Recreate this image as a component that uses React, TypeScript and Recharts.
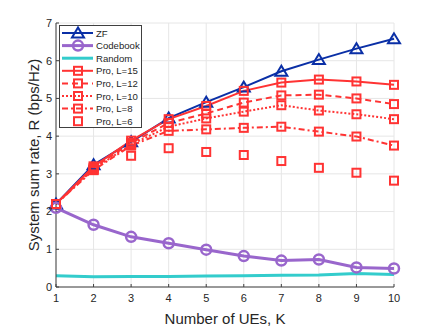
import React from 'react';
import {
  LineChart,
  Line,
  XAxis,
  YAxis,
  CartesianGrid,
} from 'recharts';

// Number of UEs
const ues = [1, 2, 3, 4, 5, 6, 7, 8, 9, 10];

// Sum rate (bps/Hz) per scheme
const zf = [2.2, 3.24, 3.85, 4.48, 4.9, 5.3, 5.72, 6.03, 6.32, 6.58];
const codebook = [2.1, 1.65, 1.33, 1.16, 0.99, 0.82, 0.7, 0.73, 0.52, 0.49];
const random = [0.3, 0.27, 0.28, 0.28, 0.29, 0.3, 0.31, 0.32, 0.36, 0.33];
const pro15 = [2.2, 3.2, 3.88, 4.45, 4.8, 5.2, 5.42, 5.5, 5.45, 5.36];
const pro12 = [2.2, 3.16, 3.82, 4.35, 4.6, 4.89, 5.08, 5.1, 5.0, 4.85];
const pro10 = [2.2, 3.13, 3.78, 4.25, 4.47, 4.65, 4.82, 4.68, 4.58, 4.45];
const pro8 = [2.2, 3.1, 3.75, 4.14, 4.18, 4.22, 4.25, 4.12, 3.99, 3.75];
const pro6 = [2.2, 3.1, 3.48, 3.68, 3.58, 3.5, 3.34, 3.16, 3.03, 2.82];

const xTicks = [1, 2, 3, 4, 5, 6, 7, 8, 9, 10];
const yTicks = [0, 1, 2, 3, 4, 5, 6, 7];

const BLUE = '#0a2fa6';
const PURPLE = '#9966cc';
const TEAL = '#33cccc';
const RED = '#ff3333';
const AXIS = '#404040';
const FONT = '"Liberation Sans", Arial, Helvetica, sans-serif';

const chartData = ues.map((k, i) => ({
  k,
  zf: zf[i],
  codebook: codebook[i],
  random: random[i],
  pro15: pro15[i],
  pro12: pro12[i],
  pro10: pro10[i],
  pro8: pro8[i],
  pro6: pro6[i],
}));

const triangle = (cx: number, cy: number, color: string, key?: any) => (
  <polygon
    key={key}
    points={`${cx},${cy - 5.5} ${cx - 6},${cy + 4.5} ${cx + 6},${cy + 4.5}`}
    fill="none"
    stroke={color}
    strokeWidth={2}
  />
);

const circle = (cx: number, cy: number, color: string, key?: any) => (
  <circle key={key} cx={cx} cy={cy} r={5} fill="none" stroke={color} strokeWidth={2.5} />
);

const square = (cx: number, cy: number, color: string, key?: any) => (
  <rect
    key={key}
    x={cx - 4}
    y={cy - 4}
    width={8}
    height={8}
    fill="none"
    stroke={color}
    strokeWidth={2}
  />
);

type Marker = 'triangle' | 'circle' | 'square' | 'none';

const drawMarker = (m: Marker, cx: number, cy: number, color: string, key?: any) => {
  if (m === 'triangle') return triangle(cx, cy, color, key);
  if (m === 'circle') return circle(cx, cy, color, key);
  if (m === 'square') return square(cx, cy, color, key);
  return <g key={key} />;
};

const dotFn = (m: Marker, color: string) => (props: any) =>
  drawMarker(m, props.cx, props.cy, color, `${m}-${props.index}`);

interface SeriesDef {
  key: string;
  label: string;
  color: string;
  width: number;
  dash?: string;
  marker: Marker;
  noLine?: boolean;
}

const series: SeriesDef[] = [
  { key: 'zf', label: 'ZF', color: BLUE, width: 2, marker: 'triangle' },
  { key: 'codebook', label: 'Codebook', color: PURPLE, width: 3, marker: 'circle' },
  { key: 'random', label: 'Random', color: TEAL, width: 3, marker: 'none' },
  { key: 'pro15', label: 'Pro, L=15', color: RED, width: 2, marker: 'square' },
  { key: 'pro12', label: 'Pro, L=12', color: RED, width: 2, dash: '6 4', marker: 'square' },
  { key: 'pro10', label: 'Pro, L=10', color: RED, width: 2, dash: '2 2', marker: 'square' },
  { key: 'pro8', label: 'Pro, L=8', color: RED, width: 2, dash: '6 3 2 3', marker: 'square' },
  { key: 'pro6', label: 'Pro, L=6', color: RED, width: 2, marker: 'square', noLine: true },
];

function LegendBox() {
  const w = 83;
  const h = 103;
  return (
    <svg width={w} height={h} style={{ display: 'block' }}>
      <rect x={0.5} y={0.5} width={w - 1} height={h - 1} fill="#fff" stroke={AXIS} strokeWidth={1} />
      {series.map((s, i) => {
        const y = 8 + i * 12.6;
        return (
          <g key={s.key}>
            {!s.noLine && (
              <line
                x1={3}
                x2={34}
                y1={y}
                y2={y}
                stroke={s.color}
                strokeWidth={s.width}
                strokeDasharray={s.dash}
              />
            )}
            {drawMarker(s.marker, 19, y, s.color)}
            <text x={37} y={y + 3.5} fontSize={9.6} fontFamily={FONT} fill="#262626">
              {s.label}
            </text>
          </g>
        );
      })}
    </svg>
  );
}

export default function App() {
  return (
    <div style={{ position: 'absolute', left: 0, top: 0, width: 436, height: 327, background: '#fff' }}>
      <LineChart
        width={436}
        height={327}
        data={chartData}
        margin={{ top: 23, right: 42, left: 0, bottom: 0 }}
      >
        <CartesianGrid stroke="#e6e6e6" strokeWidth={1} />
        <XAxis
          dataKey="k"
          type="number"
          domain={[1, 10]}
          ticks={xTicks}
          height={40}
          axisLine={{ stroke: AXIS }}
          tickLine={{ stroke: AXIS }}
          tickSize={-3}
          tickMargin={10}
          tick={{ fill: '#262626', fontSize: 11, fontFamily: FONT }}
          label={{
            value: 'Number of UEs, K',
            position: 'insideBottom',
            offset: 3,
            style: { fontSize: 15, fontFamily: FONT, fill: '#262626' },
          }}
        />
        <YAxis
          type="number"
          domain={[0, 7]}
          ticks={yTicks}
          width={56}
          axisLine={{ stroke: AXIS }}
          tickLine={{ stroke: AXIS }}
          tickSize={-3}
          tickMargin={7}
          tick={{ fill: '#262626', fontSize: 11, fontFamily: FONT }}
          label={{
            value: 'System sum rate, R (bps/Hz)',
            angle: -90,
            position: 'insideLeft',
            offset: 34,
            style: { textAnchor: 'middle', fontSize: 15, fontFamily: FONT, fill: '#262626' },
          }}
        />
        {series.map((s) => (
          <Line
            key={s.key}
            type="linear"
            dataKey={s.key}
            stroke={s.noLine ? 'none' : s.color}
            strokeWidth={s.width}
            strokeDasharray={s.dash}
            dot={s.marker === 'none' ? false : dotFn(s.marker, s.color)}
            activeDot={false}
            isAnimationActive={false}
          />
        ))}
      </LineChart>
      <div style={{ position: 'absolute', left: 59, top: 25 }}>
        <LegendBox />
      </div>
    </div>
  );
}
